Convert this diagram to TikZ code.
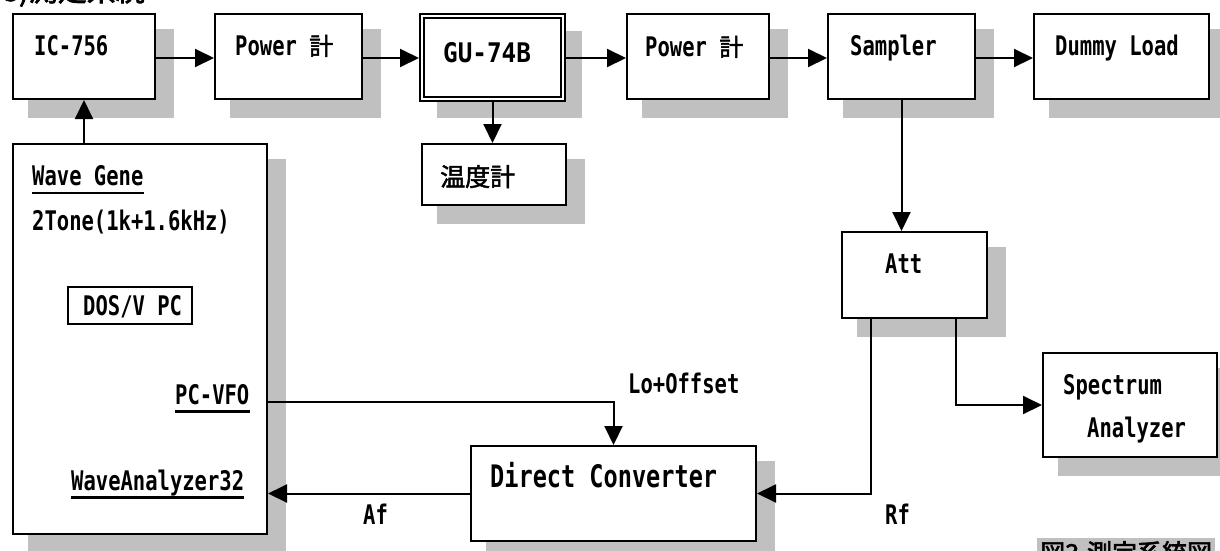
\documentclass[tikz,border=0pt]{standalone}
\usepackage{fontspec}
\usetikzlibrary{arrows.meta,calc}
\newfontfamily\mono[FakeStretch=0.76]{DejaVu Sans Mono}
\newfontfamily\monow[FakeStretch=0.9]{DejaVu Sans Mono}
\newfontfamily\jp[FakeBold=2]{Noto Sans CJK JP}
\newfontfamily\jpb[FakeBold=2.5]{Noto Sans CJK JP}
\definecolor{shadowc}{RGB}{192,192,192}
\newcommand\kei{{\jp\mdseries\fontsize{24}{28}\selectfont 計}}
% #1 options, #2 name, #3 x1, #4 y1, #5 x2, #6 y2 (outer edges, y downwards)
\newcommand\bx[6][]{%
  \fill[shadowc] ({#3+16},{#4+16}) rectangle ({#5+18},{#6+18});
  \node[box,#1,minimum width={(#5-#3-2)*1pt},minimum height={(#6-#4-2)*1pt}] (#2) at ({(#3+#5)/2},{(#4+#6)/2}) {};}
\begin{document}
\begin{tikzpicture}[x=1pt,y=-1pt,
  box/.style={draw, line width=2pt, fill=white, inner sep=0pt},
  txt/.style={inner sep=0pt, anchor=base west, font=\mono\bfseries\fontsize{27}{30}\selectfont},
  jtxt/.style={inner sep=0pt, anchor=base west, font=\jp\fontsize{25}{28}\selectfont},
  arr/.style={line width=2pt, -{Triangle[length=19pt,width=18pt]}},
  ul/.style={line width=2.5pt},
]
\useasboundingbox (0,0) rectangle (1220,550);
\fill[white] (0,0) rectangle (1220,550);

% title and caption (cut by the page edge, as in the original)
\node[inner sep=0pt, anchor=base east, font=\jpb\fontsize{29}{30}\selectfont] (title) at (145,1) {3)測定系統};
\node[fill=shadowc, inner sep=3pt, anchor=north west, font=\jpb\fontsize{25}{28}\selectfont] (caption) at (1037,538) {図3\hspace{8pt}測定系統図};

% boxes
\bx{ic}{12}{13}{156}{100}
\bx{pw1}{214}{13}{363}{100}
\bx[double, double distance=2pt, outer sep=3pt]{gu}{421}{15}{564}{100}
\bx{pw2}{626}{13}{770}{100}
\bx{sam}{827}{13}{976}{100}
\bx{dl}{1033}{13}{1210}{100}
\bx{temp}{421}{143}{567}{206}
\bx{wg}{12}{143}{268}{535}
\bx{att}{841}{231}{988}{319}
\bx{sa}{1042}{352}{1218}{458}
\bx{dc}{470}{445}{757}{542}
\node[box, minimum width=124pt, minimum height=37pt] (dos) at (130,305.5) {};

% texts
\node[txt] (tic) at (34,55) {IC-756};
\node[txt] (tpw1) at (235,55) {Power \kei};
\node[txt, font=\monow\bfseries\fontsize{27}{30}\selectfont] (tgu) at (443,62) {GU-74B};
\node[txt] (tpw2) at (645,56) {Power \kei};
\node[txt] (tsam) at (850,55) {Sampler};
\node[txt] (tdl) at (1055,55) {Dummy Load};
\node[jtxt] (ttemp) at (440,186) {温度計};
\node[txt] (twg) at (32,185) {Wave Gene};
\node[txt] (ttone) at (32,230) {2Tone(1k+1.6kHz)};
\node[txt] (tdos) at (83,315) {DOS/V PC};
\node[txt] (tvfo) at (175,404) {PC-VFO};
\node[txt] (twa) at (71,490) {WaveAnalyzer32};
\node[txt] (taf) at (363,524) {Af};
\node[txt] (tlo) at (628,393) {Lo+Offset};
\node[txt, font=\mono\bfseries\fontsize{31}{34}\selectfont] (tdc) at (490,487) {Direct Converter};
\node[txt] (trf) at (885,524) {Rf};
\node[txt] (tatt) at (885,273) {Att};
\node[txt] (tsp1) at (1063,394) {Spectrum};
\node[txt] (tsp2) at (1087,437) {Analyzer};

% underlines
\draw[ul] ($(twg.base west)+(0,8)$) -- ($(twg.base east)+(0,8)$);
\draw[ul] ($(tvfo.base west)+(0,7.5)$) -- ($(tvfo.base east)+(0,7.5)$);
\draw[ul] ($(twa.base west)+(0,7.5)$) -- ($(twa.base east)+(0,7.5)$);

% connectors
\coordinate (topy) at (0,58);
\coordinate (vfo) at (0,402);
\coordinate (rfx) at (871,0);
\coordinate (sax) at (956,0);
\draw[arr] (ic.east |- topy) -- (pw1.west |- topy);
\draw[arr] (pw1.east |- topy) -- (gu.west |- topy);
\draw[arr] (gu.east |- topy) -- (pw2.west |- topy);
\draw[arr] (pw2.east |- topy) -- (sam.west |- topy);
\draw[arr] (sam.east |- topy) -- (dl.west |- topy);
\draw[arr] (gu.south) -- (gu.south |- temp.north);
\draw[arr] (sam.south) -- (sam.south |- att.north);
\draw[arr] (ic.south |- wg.north) -- (ic.south);
\draw[arr] (wg.east |- vfo) -| (dc.north);
\draw[arr] (dc.west) -- (dc.west -| wg.east);
\draw[arr] (rfx |- att.south) |- (dc.east);
\draw[arr] (sax |- att.south) |- (sa.west);
\end{tikzpicture}
\end{document}
